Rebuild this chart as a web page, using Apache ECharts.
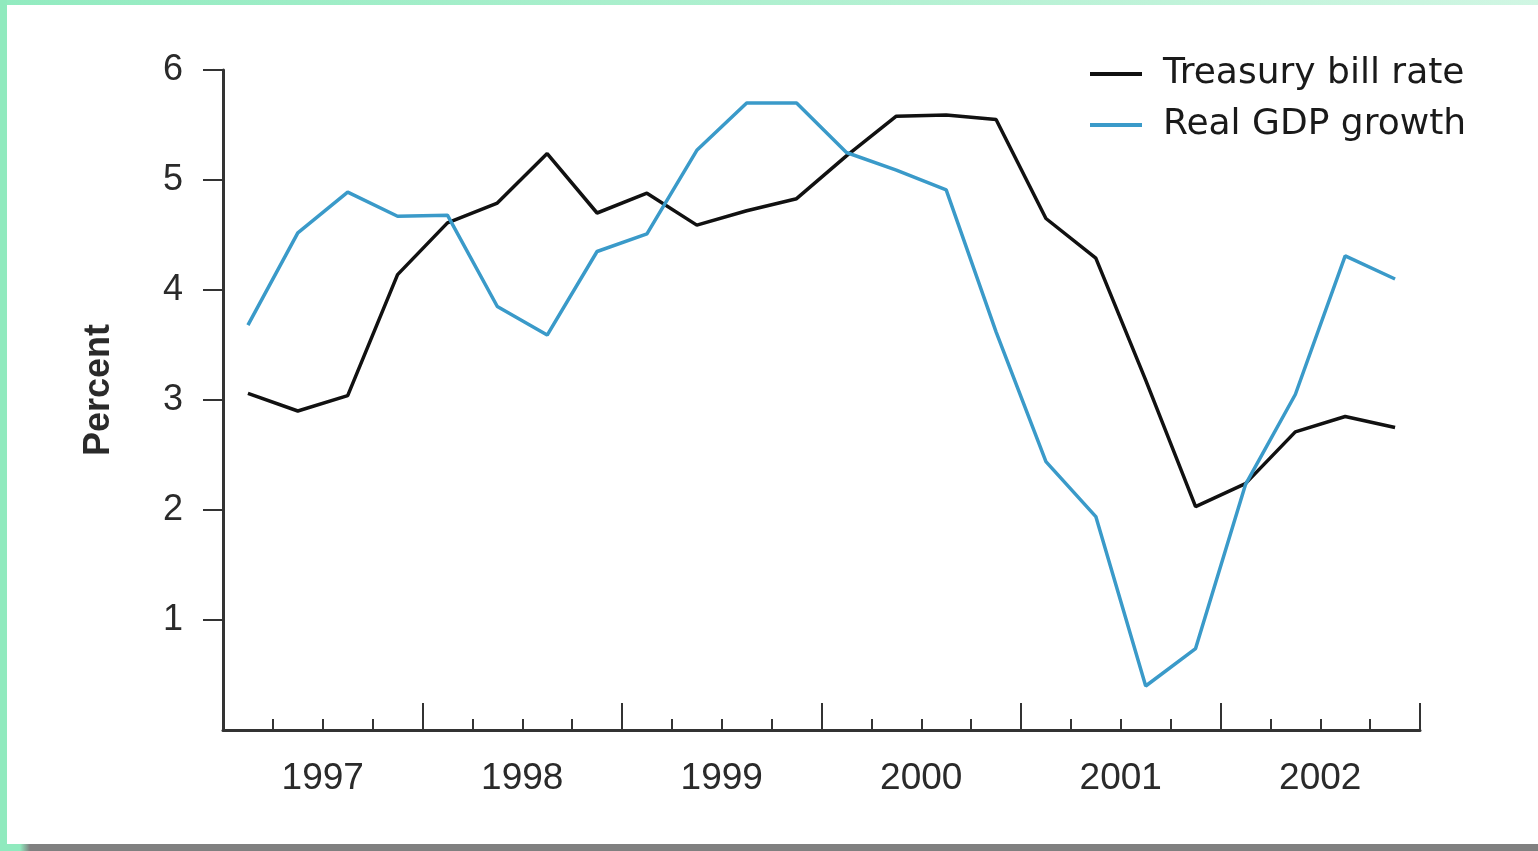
<!DOCTYPE html>
<html>
<head>
<meta charset="utf-8">
<script src="https://cdn.jsdelivr.net/npm/echarts@6/dist/echarts.min.js"></script>
<style>
  html, body { margin: 0; padding: 0; width: 1538px; height: 851px; overflow: hidden; background: #ffffff; }
  #topband { position: absolute; left: 0; top: 0; width: 1538px; height: 5px; background: linear-gradient(to right, #92ebc0, #b5f1d3 60%, #d0f6e3); }
  #leftband { position: absolute; left: 0; top: 0; width: 7px; height: 851px; background: #90eabe; }
  #bottomband { position: absolute; left: 0; top: 844px; width: 1538px; height: 7px; background: linear-gradient(to right, #90eabe 0px, #90eabe 20px, #808080 30px, #808080); }
  #chart { position: absolute; left: 0; top: 0; width: 1538px; height: 851px; }
</style>
</head>
<body>
<div id="topband"></div>
<div id="leftband"></div>
<div id="bottomband"></div>
<div id="chart"></div>
<script>
// Quarterly categories (1997 Q1 .. 2002 Q4)
var quarters = [
  '1997Q1','1997Q2','1997Q3','1997Q4',
  '1998Q1','1998Q2','1998Q3','1998Q4',
  '1999Q1','1999Q2','1999Q3','1999Q4',
  '2000Q1','2000Q2','2000Q3','2000Q4',
  '2001Q1','2001Q2','2001Q3','2001Q4',
  '2002Q1','2002Q2','2002Q3','2002Q4'
];
var years = ['1997','1998','1999','2000','2001','2002'];
var tbillRate = [3.06, 2.90, 3.04, 4.14, 4.61, 4.79, 5.24, 4.70, 4.88, 4.59, 4.72, 4.83,
                 5.22, 5.58, 5.59, 5.55, 4.65, 4.29, 3.18, 2.03, 2.24, 2.71, 2.85, 2.75];
var realGdp   = [3.68, 4.52, 4.89, 4.67, 4.68, 3.85, 3.59, 4.35, 4.51, 5.27, 5.70, 5.70,
                 5.25, 5.09, 4.91, 3.62, 2.44, 1.94, 0.40, 0.74, 2.23, 3.05, 4.31, 4.10];
var yTicks = [1, 2, 3, 4, 5, 6];
var yMin = 0;
var seriesNames = ['Treasury bill rate', 'Real GDP growth'];
var yName = 'Percent';

var chart = echarts.init(document.getElementById('chart'), null, { renderer: 'canvas' });
var axisColor = '#333333';
var textColor = '#2a2a2a';
chart.setOption({
  backgroundColor: 'transparent',
  animation: false,
  grid: { left: 223, top: 70, right: 118, bottom: 121, containLabel: false },
  legend: {
    orient: 'vertical',
    left: 1085,
    top: 49,
    itemWidth: 52,
    itemHeight: 4,
    itemGap: 11,
    icon: 'rect',
    data: seriesNames,
    textStyle: {
      fontFamily: 'DejaVu Sans',
      fontSize: 36,
      color: '#1a1a1a',
      lineHeight: 40,
      padding: [0, 0, 0, 16]
    }
  },
  xAxis: [
    {
      type: 'category',
      data: quarters,
      boundaryGap: true,
      position: 'bottom',
      axisLine: { show: true, lineStyle: { color: axisColor, width: 3 } },
      axisTick: { show: true, inside: true, length: 11, interval: 0, lineStyle: { color: axisColor, width: 2 } },
      axisLabel: { show: false },
      splitLine: { show: false }
    },
    {
      type: 'category',
      data: years,
      boundaryGap: true,
      position: 'bottom',
      axisLine: { show: false },
      axisTick: { show: true, inside: true, length: 27, interval: 0, lineStyle: { color: axisColor, width: 2 } },
      axisLabel: {
        show: true, interval: 0, margin: 30,
        fontFamily: 'Liberation Sans', fontSize: 37, color: textColor
      },
      splitLine: { show: false }
    }
  ],
  yAxis: {
    type: 'value',
    min: yMin,
    max: yTicks[yTicks.length - 1],
    interval: 1,
    name: yName,
    nameLocation: 'middle',
    nameGap: 106,
    nameRotate: 90,
    nameTextStyle: { fontFamily: 'Liberation Sans', fontWeight: 'bold', fontSize: 36, color: textColor, padding: [0, 0, 0, 20] },
    axisLine: { show: true, lineStyle: { color: axisColor, width: 3 } },
    axisTick: { show: true, inside: false, length: 20, customValues: yTicks, lineStyle: { color: axisColor, width: 2 } },
    axisLabel: {
      margin: 40, fontFamily: 'Liberation Sans', fontSize: 36, color: textColor,
      customValues: yTicks
    },
    splitLine: { show: false }
  },
  series: [
    {
      name: seriesNames[0], type: 'line', xAxisIndex: 0, data: tbillRate,
      symbol: 'none', color: '#111111',
      lineStyle: { width: 3.5, color: '#111111' }
    },
    {
      name: seriesNames[1], type: 'line', xAxisIndex: 0, data: realGdp,
      symbol: 'none', color: '#3a9ac9',
      lineStyle: { width: 3.5, color: '#3a9ac9' }
    }
  ]
});
</script>
</body>
</html>
